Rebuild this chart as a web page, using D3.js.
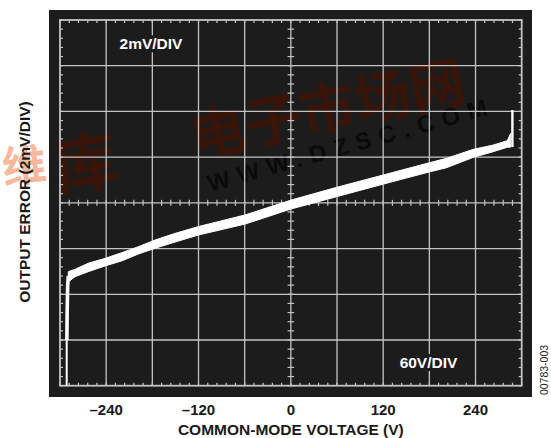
<!DOCTYPE html>
<html>
<head>
<meta charset="utf-8">
<script src="https://cdn.jsdelivr.net/npm/d3@7"></script>
<style>
  html, body { margin: 0; padding: 0; background: #ffffff; }
  svg { display: block; }
</style>
</head>
<body>
<svg id="chart" width="551" height="438"></svg>
<script>
// ---------- data ----------
const xTickValues = [-240, -120, 0, 120, 240];
const xTickLabels = ["\u2013240", "\u2013120", "0", "120", "240"];
// main trace band: common-mode voltage (V) and output error envelope (mV)
const voltage  = [-289.2, -280.5, -263.2, -241.5, -219.8, -198.3, -176.6, -152.8, -120.3, -59.6, 0.2, 59.6, 120.2, 180.8, 202.5, 237.1, 263.1, 281.3, 285.7];
const errUpper = [-3.01, -2.91, -2.64, -2.43, -2.18, -1.92, -1.63, -1.36, -1.04, -0.53, 0.12, 0.68, 1.22, 1.76, 1.95, 2.34, 2.53, 2.72, 3.04];
const errLower = [-3.46, -3.23, -3.01, -2.76, -2.54, -2.24, -1.99, -1.74, -1.41, -0.93, -0.27, 0.27, 0.82, 1.36, 1.54, 1.99, 2.24, 2.43, 2.44];
// saturation tails of the trace
const leftTailThinV  = [-291.3, -291.3];
const leftTailThinE  = [-8.0, -6.0];
const leftTailThickV = [-291.1, -290.7, -290.0, -289.2];
const leftTailThickE = [-6.0, -4.8, -3.6, -3.2];
const rightTailV = [287.9, 287.9];
const rightTailE = [2.44, 4.06];

// ---------- layout ----------
const svg = d3.select("#chart");
const frame = { x0: 49, y0: 10, x1: 532, y1: 397 };
const plot = { left: 60, right: 521.7, top: 20, bottom: 385.7 };

const x = d3.scaleLinear().domain([-300, 300]).range([plot.left, plot.right]);
const y = d3.scaleLinear().domain([-8, 8]).range([plot.bottom, plot.top]);

const gridColor = "#c4c4c4";
const bg = "#1c1c1c";
const font = "'Liberation Sans', Arial, Helvetica, sans-serif";
const cnFont = "'Noto Sans CJK SC', sans-serif";

// watermark on the paper, left of the screen
svg.append("text")
  .attr("transform", "translate(4,184) rotate(-6)")
  .attr("font-family", cnFont).attr("font-weight", "bold")
  .attr("font-size", 44)
  .attr("fill", "#f07a4a").attr("fill-opacity", 0.55)
  .text("维");

// black scope frame
svg.append("rect")
  .attr("x", frame.x0).attr("y", frame.y0)
  .attr("width", frame.x1 - frame.x0).attr("height", frame.y1 - frame.y0)
  .attr("fill", bg);

// faint watermark on the screen
svg.append("text")
  .attr("transform", "translate(58,192) rotate(-10)")
  .attr("font-family", cnFont).attr("font-weight", "bold")
  .attr("font-size", 64)
  .attr("fill", "#3c1408").attr("fill-opacity", 0.9)
  .text("库");
svg.append("text")
  .attr("transform", "translate(195,158) rotate(-12)")
  .attr("font-family", cnFont).attr("font-weight", "bold")
  .attr("font-size", 56)
  .attr("fill", "#3c1408").attr("fill-opacity", 0.9)
  .text("电子市场网");
svg.append("text")
  .attr("transform", "translate(210,192) rotate(-15.5)")
  .attr("font-family", font).attr("font-weight", "bold")
  .attr("font-size", 24).attr("letter-spacing", 8)
  .attr("fill", "#050505").attr("fill-opacity", 0.75)
  .text("WWW.DZSC.COM");

// grid lines
const vLines = d3.range(-300, 300.1, 60);
const hLines = d3.range(-8, 8.01, 2);
const grid = svg.append("g").attr("stroke", gridColor).attr("stroke-width", 1.3);
grid.selectAll("line.v").data(vLines.slice(1, -1)).join("line")
  .attr("x1", d => x(d)).attr("x2", d => x(d))
  .attr("y1", plot.top).attr("y2", plot.bottom);
grid.selectAll("line.h").data(hLines.slice(1, -1)).join("line")
  .attr("y1", d => y(d)).attr("y2", d => y(d))
  .attr("x1", plot.left).attr("x2", plot.right);

// minor ticks (5 per division)
const minorX = d3.range(-300, 300.1, 12);
const minorY = d3.range(-8, 8.01, 0.4);
const ticks = svg.append("g").attr("stroke", gridColor).attr("stroke-width", 1.2);
ticks.selectAll("line.tt").data(minorX).join("line")
  .attr("x1", d => x(d)).attr("x2", d => x(d)).attr("y1", plot.top).attr("y2", plot.top + 3);
ticks.selectAll("line.tb").data(minorX).join("line")
  .attr("x1", d => x(d)).attr("x2", d => x(d)).attr("y1", plot.bottom).attr("y2", plot.bottom - 3);
ticks.selectAll("line.tl").data(minorY).join("line")
  .attr("y1", d => y(d)).attr("y2", d => y(d)).attr("x1", plot.left).attr("x2", plot.left + 3);
ticks.selectAll("line.tr").data(minorY).join("line")
  .attr("y1", d => y(d)).attr("y2", d => y(d)).attr("x1", plot.right).attr("x2", plot.right - 3);
ticks.selectAll("line.cx").data(minorX).join("line")
  .attr("x1", d => x(d)).attr("x2", d => x(d)).attr("y1", y(0) - 3).attr("y2", y(0) + 3);
ticks.selectAll("line.cy").data(minorY).join("line")
  .attr("y1", d => y(d)).attr("y2", d => y(d)).attr("x1", x(0) - 3.3).attr("x2", x(0) + 3.3);

// border
svg.append("rect")
  .attr("x", plot.left).attr("y", plot.top)
  .attr("width", plot.right - plot.left).attr("height", plot.bottom - plot.top)
  .attr("fill", "none").attr("stroke", gridColor).attr("stroke-width", 1.8);

// scale labels inside the screen (with black boxes)
function scopeLabel(txt, cx, baseline) {
  const g = svg.append("g");
  const t = g.append("text")
    .attr("x", cx).attr("y", baseline)
    .attr("text-anchor", "middle")
    .attr("font-family", font).attr("font-weight", "bold").attr("font-size", 15.5)
    .attr("fill", "#ffffff").text(txt);
  const bb = t.node().getBBox();
  g.insert("rect", "text")
    .attr("x", bb.x - 3).attr("y", baseline - 14)
    .attr("width", bb.width + 6).attr("height", 17)
    .attr("fill", bg);
}
scopeLabel("2mV/DIV", 151, 49.3);
scopeLabel("60V/DIV", 428.5, 368);

// ---------- trace ----------
const band = voltage.map((v, i) => ({ v, hi: errUpper[i], lo: errLower[i] }));
const area = d3.area().x(d => x(d.v)).y0(d => y(d.lo)).y1(d => y(d.hi));
svg.append("path").datum(band)
  .attr("d", area).attr("fill", "#ffffff")
  .attr("stroke", "#ffffff").attr("stroke-width", 1).attr("stroke-linejoin", "round");

const line = d3.line().x(d => x(d[0])).y(d => y(d[1]));
svg.append("path").datum(d3.zip(leftTailThinV, leftTailThinE))
  .attr("d", line).attr("fill", "none").attr("stroke", "#ffffff").attr("stroke-width", 2);
svg.append("path").datum(d3.zip(leftTailThickV, leftTailThickE))
  .attr("d", line).attr("fill", "none").attr("stroke", "#ffffff").attr("stroke-width", 3.6);
svg.append("path").datum(d3.zip(rightTailV, rightTailE))
  .attr("d", line).attr("fill", "none").attr("stroke", "#ffffff").attr("stroke-width", 2.4);

// ---------- axis labels ----------
svg.append("g").selectAll("text").data(xTickValues).join("text")
  .attr("x", d => x(d)).attr("y", 414.5)
  .attr("text-anchor", "middle")
  .attr("font-family", font).attr("font-weight", "bold").attr("font-size", 15)
  .attr("fill", "#1a1a1a")
  .text((d, i) => xTickLabels[i]);

svg.append("text")
  .attr("x", x(0)).attr("y", 434.7)
  .attr("text-anchor", "middle")
  .attr("font-family", font).attr("font-weight", "bold").attr("font-size", 15.5)
  .attr("fill", "#1a1a1a")
  .text("COMMON-MODE VOLTAGE (V)");

svg.append("text")
  .attr("transform", "translate(30,202) rotate(-90)")
  .attr("text-anchor", "middle")
  .attr("font-family", font).attr("font-weight", "bold").attr("font-size", 15.5)
  .attr("fill", "#1a1a1a")
  .text("OUTPUT ERROR (2mV/DIV)");

svg.append("text")
  .attr("transform", "translate(548,370) rotate(-90)")
  .attr("text-anchor", "middle")
  .attr("font-family", font).attr("font-size", 10.5)
  .attr("fill", "#1a1a1a")
  .text("00783-003");
</script>
</body>
</html>
